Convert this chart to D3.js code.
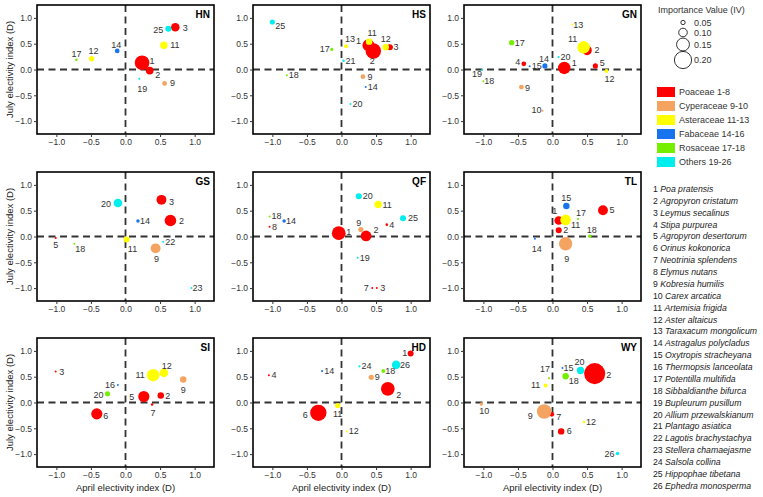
<!DOCTYPE html>
<html>
<head>
<meta charset="utf-8">
<script src="https://cdn.jsdelivr.net/npm/d3@7"></script>
<style>
  body { margin: 0; background: #fff; }
  svg { display: block; font-family: "Liberation Sans", Arial, sans-serif; }
</style>
</head>
<body>
<div id="chart"></div>
<script>
// sites, in panel order (row by row)
const sites = ["HN", "HS", "GN", "GS", "QF", "TL", "SI", "HD", "WY"];

// points: [species id, April D, July D, importance value]
const HN = [[1,0.24,0.13,0.17],[2,0.35,-0.02,0.09],[3,0.72,0.82,0.10],[25,0.62,0.79,0.07],[11,0.555,0.47,0.085],
  [14,-0.12,0.36,0.055],[12,-0.49,0.21,0.06],[17,-0.71,0.19,0.03],[19,0.20,-0.18,0.02],[9,0.565,-0.27,0.055]];
const HS = [[25,-1.0,0.92,0.06],[18,-0.79,-0.11,0.02],[17,-0.14,0.39,0.035],[13,0.065,0.45,0.045],[21,0.03,0.17,0.03],
  [1,0.39,0.47,0.14],[2,0.46,0.36,0.18],[11,0.40,0.54,0.075],[12,0.64,0.43,0.075],[3,0.70,0.43,0.07],
  [9,0.31,-0.14,0.055],[14,0.35,-0.34,0.02],[20,0.13,-0.67,0.02]];
const GN = [[13,0.285,0.87,0.015],[17,-0.59,0.52,0.062],[11,0.45,0.43,0.145],[2,0.50,0.37,0.11],[20,0.087,0.24,0.025],
  [4,-0.415,0.11,0.055],[15,-0.33,0.065,0.02],[14,-0.11,0.07,0.06],[1,0.17,0.03,0.145],[5,0.62,0.07,0.06],
  [12,0.78,-0.03,0.045],[19,-1.02,-0.01,0.015],[18,-1.0,-0.23,0.015],[9,-0.45,-0.34,0.055],[10,-0.145,-0.80,0.015]];
const GS = [[20,-0.11,0.65,0.10],[3,0.52,0.71,0.115],[14,0.18,0.30,0.04],[2,0.65,0.31,0.135],[5,-1.01,-0.03,0.025],
  [18,-0.74,-0.14,0.015],[11,0.015,-0.06,0.07],[22,0.545,-0.10,0.015],[9,0.435,-0.23,0.115],[23,0.955,-1.0,0.015]];
const QF = [[18,-1.04,0.39,0.015],[8,-1.04,0.19,0.02],[14,-0.83,0.30,0.04],[1,-0.04,0.065,0.16],[20,0.25,0.78,0.07],
  [11,0.53,0.62,0.085],[25,0.89,0.355,0.07],[4,0.655,0.23,0.03],[9,0.28,0.135,0.06],[2,0.355,0.01,0.125],
  [19,0.235,-0.41,0.02],[7,0.445,-1.0,0.02],[3,0.51,-1.0,0.02]];
const TL = [[15,0.20,0.59,0.075],[5,0.73,0.51,0.115],[1,0.09,0.31,0.10],[11,0.19,0.32,0.125],[17,0.37,0.34,0.02],
  [2,0.09,0.12,0.07],[18,0.54,0.005,0.04],[14,-0.255,-0.045,0.02],[9,0.19,-0.14,0.155]];
const SI = [[3,-1.01,0.60,0.02],[16,-0.11,0.34,0.02],[20,-0.26,0.17,0.06],[6,-0.415,-0.22,0.13],[11,0.40,0.53,0.145],
  [12,0.555,0.575,0.10],[5,0.265,0.115,0.13],[2,0.51,0.135,0.075],[7,0.385,-0.04,0.03],[9,0.835,0.445,0.075]];
const HD = [[4,-1.05,0.53,0.015],[6,-0.335,-0.20,0.19],[14,-0.28,0.61,0.025],[11,-0.055,-0.06,0.06],[12,0.075,-0.56,0.02],
  [24,0.26,0.70,0.025],[9,0.43,0.49,0.06],[18,0.605,0.61,0.045],[26,0.79,0.73,0.10],[1,1.0,0.95,0.07],[2,0.67,0.265,0.16]];
const WY = [[15,0.145,0.67,0.015],[20,0.405,0.62,0.085],[2,0.61,0.56,0.245],[17,-0.05,0.47,0.025],[18,0.19,0.51,0.075],
  [11,-0.10,0.33,0.045],[10,-1.03,-0.03,0.04],[9,-0.12,-0.175,0.17],[7,-0.01,-0.23,0.055],[12,0.455,-0.38,0.03],
  [6,0.125,-0.56,0.075],[26,0.94,-0.99,0.04]];

const families = ["Poaceae 1-8", "Cyperaceae 9-10", "Asteraceae 11-13", "Fabaceae 14-16", "Rosaceae 17-18", "Others 19-26"];
const familyLast = [8, 10, 13, 16, 18, 26];
const familyColors = ["#ff0000", "#f4a460", "#ffff00", "#1874ee", "#76ee00", "#00eeee"];
// one point drawn in a different colour in the original
const colourOverride = { "SI-20": 4 };

const sizeBreaks = [0.05, 0.10, 0.15, 0.20];
const ticks = [-1, -0.5, 0, 0.5, 1];

const speciesNames = ["Poa pratensis", "Agropyron cristatum", "Leymus secalinus", "Stipa purpurea",
  "Agropyron desertorum", "Orinus kokonorica", "Neotrinia splendens", "Elymus nutans", "Kobresia humilis",
  "Carex arcatica", "Artemisia frigida", "Aster altaicus", "Taraxacum mongolicum", "Astragalus polycladus",
  "Oxytropis stracheyana", "Thermopsis lanceolata", "Potentilla multifida", "Sibbaldianthe bifurca",
  "Bupleurum pusillum", "Allium przewalskianum", "Plantago asiatica", "Lagotis brachystachya",
  "Stellera chamaejasme", "Salsola collina", "Hippophae tibetana", "Ephedra monosperma"];

const siteData = { HN, HS, GN, GS, QF, TL, SI, HD, WY };

// label nudges (px from point centre) - where the labels sit in the original
const labelNudge = {
  HN: {1:[10,-2],2:[8,4],3:[10,1],25:[-10,1],11:[11,0],14:[-1,-6],12:[2,-8],17:[0,-6],19:[3,10],9:[8,0]},
  HS: {25:[8,4],18:[7,0],17:[-7,0],13:[4,-7],21:[7,0],1:[-10,-4],2:[-1,10],11:[3,-9],12:[0,-8],3:[6,0],9:[7,0],14:[7,0],20:[7,0]},
  GN: {13:[6,0],17:[8,0],11:[-11,-8],2:[10,0],20:[7,0],4:[-6,-2],15:[7,0],14:[-1,-7],1:[10,-5],5:[7,-3],12:[3,8],19:[-5,4],18:[6,0],9:[6,1],10:[-6,-1]},
  GS: {20:[-12,1],3:[10,2],14:[7,0],2:[11,0],5:[0,7],18:[6,5],11:[6,9],22:[7,0],9:[1,11],23:[6,0]},
  QF: {18:[7,0],8:[5,0],14:[7,0],1:[10,-1],20:[9,0],11:[9,0],25:[10,0],4:[5,0],9:[-2,-7],2:[10,-6],19:[7,0],7:[-6,0],3:[6,0]},
  TL: {15:[0,-8],5:[9,0],1:[-4,-10],11:[10,5],17:[3,-6],2:[7,0],18:[2,-6],14:[2,10],9:[1,15]},
  SI: {3:[6,0],16:[-8,0],20:[-9,1],6:[9,2],11:[-13,0],12:[3,-7],5:[-12,0],2:[7,0],7:[1,8],9:[0,10]},
  HD: {4:[5,0],6:[-13,2],14:[7,0],11:[0,8],12:[7,0],24:[7,0],9:[6,0],18:[7,0],26:[9,0],1:[-6,0],2:[11,6]},
  WY: {15:[6,0],20:[-1,-9],2:[14,1],17:[-4,-9],18:[8,5],11:[-10,0],10:[3,7],9:[-14,4],7:[7,3],12:[7,0],6:[8,0],26:[-8,0]}
};

const W = 177, H = 129;
const colX = [37, 253, 464], rowY = [5, 172, 338];

const x = d3.scaleLinear().domain([-1.28, 1.28]).range([0, W]);
const y = d3.scaleLinear().domain([-1.25, 1.25]).range([H, 0]);
const size = d3.scaleLinear().domain([0, 0.2]).range([0, 8.6]);

const familyIndex = id => familyLast.findIndex(l => id <= l);

const svg = d3.select("#chart").append("svg")
  .attr("width", 763).attr("height", 497);

sites.forEach((site, i) => {
  const col = i % 3, row = Math.floor(i / 3);
  const g = svg.append("g").attr("transform", `translate(${colX[col]},${rowY[row]})`);

  // zero lines
  g.append("line").attr("x1", x(0)).attr("x2", x(0)).attr("y1", 0).attr("y2", H)
    .attr("stroke", "#333").attr("stroke-width", 1.8).attr("stroke-dasharray", "7,4.5");
  g.append("line").attr("x1", 0).attr("x2", W).attr("y1", y(0)).attr("y2", y(0))
    .attr("stroke", "#333").attr("stroke-width", 1.8).attr("stroke-dasharray", "7,4.5");

  const pts = siteData[site].map(d => ({ id: d[0], apr: d[1], jul: d[2], iv: d[3] }));

  g.append("g").selectAll("circle")
    .data(pts.slice().sort((a, b) => a.id - b.id))
    .join("circle")
      .attr("cx", d => x(d.apr))
      .attr("cy", d => y(d.jul))
      .attr("r", d => Math.max(1, size(d.iv)))
      .attr("fill", d => {
        const o = colourOverride[site + "-" + d.id];
        return familyColors[o !== undefined ? o : familyIndex(d.id)];
      });

  g.append("g").selectAll("text")
    .data(pts)
    .join("text")
      .attr("x", d => x(d.apr) + (labelNudge[site][d.id] || [6, 0])[0])
      .attr("y", d => y(d.jul) + (labelNudge[site][d.id] || [6, 0])[1])
      .attr("text-anchor", "middle")
      .attr("dominant-baseline", "central")
      .style("font-size", "9px")
      .style("fill", "#333")
      .text(d => d.id);

  // frame
  g.append("rect").attr("width", W).attr("height", H)
    .attr("fill", "none").attr("stroke", "#000").attr("stroke-width", 1.6);

  g.append("text")
    .attr("x", W - 4).attr("y", 13)
    .attr("text-anchor", "end")
    .style("font-size", "10px").style("font-weight", "bold")
    .text(site);

  // axes
  const xa = g.append("g").attr("transform", `translate(0,${H})`)
    .call(d3.axisBottom(x).tickValues(ticks).tickSize(3).tickPadding(2).tickFormat(d3.format(".1f")));
  const ya = g.append("g")
    .call(d3.axisLeft(y).tickValues(ticks).tickSize(3).tickPadding(2).tickFormat(d3.format(".1f")));
  [xa, ya].forEach(a => {
    a.select(".domain").remove();
    a.selectAll("line").attr("stroke", "#333");
    a.selectAll("text").style("font-size", "8.5px").style("fill", "#333")
      .style("font-family", "'Liberation Sans', Arial, sans-serif");
  });

  if (col === 0) {
    svg.append("text")
      .attr("transform", `translate(13,${rowY[row] + H / 2}) rotate(-90)`)
      .attr("text-anchor", "middle")
      .style("font-size", "9.5px").style("fill", "#222")
      .text("July electivity index (D)");
  }
  if (row === 2) {
    svg.append("text")
      .attr("x", colX[col] + W / 2).attr("y", 491)
      .attr("text-anchor", "middle")
      .style("font-size", "9.5px").style("fill", "#222")
      .text("April electivity index (D)");
  }
});

// size legend
const lg = svg.append("g");
lg.append("text").attr("x", 658).attr("y", 12.5)
  .style("font-size", "9px").style("fill", "#333")
  .text("Importance Value (IV)");
const sizeY = [22.5, 32.5, 44.5, 60];
sizeBreaks.forEach((v, i) => {
  lg.append("circle").attr("cx", 683).attr("cy", sizeY[i]).attr("r", size(v))
    .attr("fill", "#fff").attr("stroke", "#000").attr("stroke-width", 0.8);
  lg.append("text").attr("x", 694).attr("y", sizeY[i]).attr("dominant-baseline", "central")
    .style("font-size", "9px").style("fill", "#333")
    .text(d3.format(".2f")(v));
});

// family legend
families.forEach((f, i) => {
  lg.append("rect").attr("x", 657).attr("y", 87 + i * 14).attr("width", 18).attr("height", 10)
    .attr("fill", familyColors[i]);
  lg.append("text").attr("x", 679).attr("y", 92 + i * 14).attr("dominant-baseline", "central")
    .style("font-size", "9px").style("fill", "#333")
    .text(f);
});

// species list
speciesNames.forEach((s, i) => {
  const t = lg.append("text").attr("x", 653).attr("y", 189 + i * 11.87)
    .attr("dominant-baseline", "central")
    .style("font-size", "8.7px").style("fill", "#222");
  t.append("tspan").text((i + 1) + " ");
  t.append("tspan").style("font-style", "italic").text(s);
});
</script>
</body>
</html>
